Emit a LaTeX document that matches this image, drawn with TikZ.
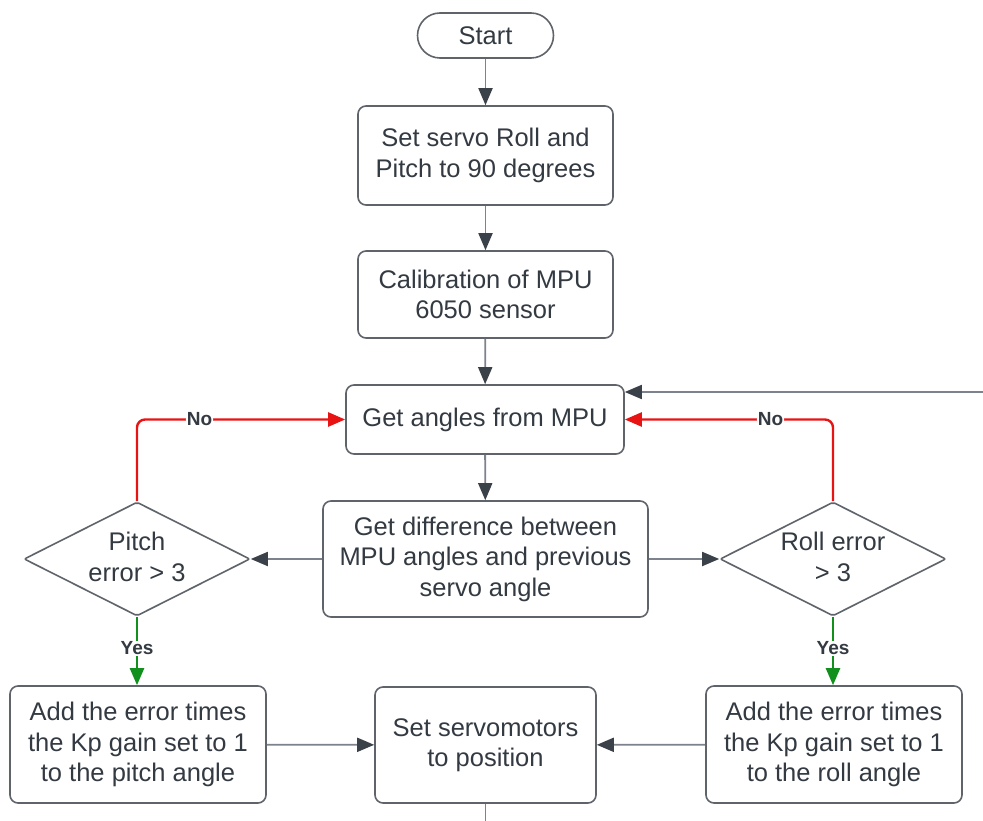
\documentclass[tikz,border=0pt]{standalone}
\usepackage{fontspec}
\setmainfont{Liberation Sans}
\usetikzlibrary{arrows.meta,shapes.geometric,positioning}
\definecolor{bord}{HTML}{5F646B}
\definecolor{txt}{HTML}{333A42}
\definecolor{lin}{HTML}{7D838C}
\definecolor{tipc}{HTML}{3A4149}
\definecolor{myred}{HTML}{E81414}
\definecolor{mygreen}{HTML}{12901E}
\tikzset{
  box/.style={draw=bord,line width=1.6pt,rounded corners=8pt,fill=white,text=txt,align=center,inner sep=0pt,font=\fontsize{25.5}{30.5}\selectfont},
  dec/.style={draw=bord,line width=1.6pt,shape=diamond,rounded corners=2pt,fill=white,inner sep=0pt,minimum width=226pt,minimum height=114pt},
  dtext/.style={text=txt,align=center,inner sep=0pt,font=\fontsize{25.5}{30.5}\selectfont},
  conn/.style={draw=lin,line width=1.8pt,-{Triangle[length=17pt,width=14pt,color=tipc]}},
  noarr/.style={draw=myred,line width=2.4pt,rounded corners=8pt,-{Triangle[length=17pt,width=14pt,color=myred]}},
  yesarr/.style={draw=mygreen,line width=2.4pt,-{Triangle[length=17pt,width=14pt,color=mygreen]}},
  lab/.style={fill=white,text=txt,font=\fontsize{19}{22}\selectfont\bfseries,inner sep=1pt}
}
\begin{document}
\begin{tikzpicture}[x=1pt,y=-1pt]
\useasboundingbox (0,0) rectangle (983,821);
\node[box,rounded corners=22.5pt,minimum width=136pt,minimum height=45pt] (start) at (485.5,35.5) {Start};
\node[box,minimum width=255pt,minimum height=99pt] (servo) at (485.5,155.5) {Set servo Roll and\\Pitch to 90 degrees};
\node[box,minimum width=255pt,minimum height=87pt] (calib) at (485.5,294.5) {Calibration of MPU\\6050 sensor};
\node[box,minimum width=278pt,minimum height=69pt] (get) at (485,419.5) {Get angles from MPU};
\node[box,minimum width=325pt,minimum height=116pt] (diff) at (485.5,559) {Get difference between\\MPU angles and previous\\servo angle};
\node[dec] (pitch) at (137,559) {};
\node[dtext] (pitchtxt) at (137,557) {Pitch\\error > 3};
\node[dec] (roll) at (833,559) {};
\node[dtext] (rolltxt) at (833,557) {Roll error\\ > 3};
\node[box,minimum width=256pt,minimum height=117pt] (addp) at (138,744.5) {Add the error times\\the Kp gain set to 1\\to the pitch angle};
\node[box,minimum width=221pt,minimum height=116pt] (set) at (485.5,745) {Set servomotors\\to position};
\node[box,minimum width=256pt,minimum height=117pt] (addr) at (834,744.5) {Add the error times\\the Kp gain set to 1\\to the roll angle};
\coordinate (tr) at (983,392);
\coordinate (bot) at (485.5,821);

\draw[conn] (start) -- (servo);
\draw[conn] (servo) -- (calib);
\draw[conn] (calib) -- (get);
\draw[conn] (get) -- (diff);
\draw[conn] (diff) -- (pitch);
\draw[conn] (diff) -- (roll);
\draw[conn] (addp) -- (set);
\draw[conn] (addr) -- (set);
\draw[conn] (tr) -- (tr -| get.east);
\draw[draw=lin,line width=1.8pt] (set) -- (bot);

\draw[noarr] (pitch.north) |- node[lab,pos=0.65] {No} (get.west);
\draw[noarr] (roll.north) |- node[lab,pos=0.65] {No} (get.east);
\draw[yesarr] (pitch.south) -- node[lab,pos=0.46] {Yes} (pitch.south |- addp.north);
\draw[yesarr] (roll.south) -- node[lab,pos=0.46] {Yes} (roll.south |- addr.north);
\end{tikzpicture}
\end{document}
